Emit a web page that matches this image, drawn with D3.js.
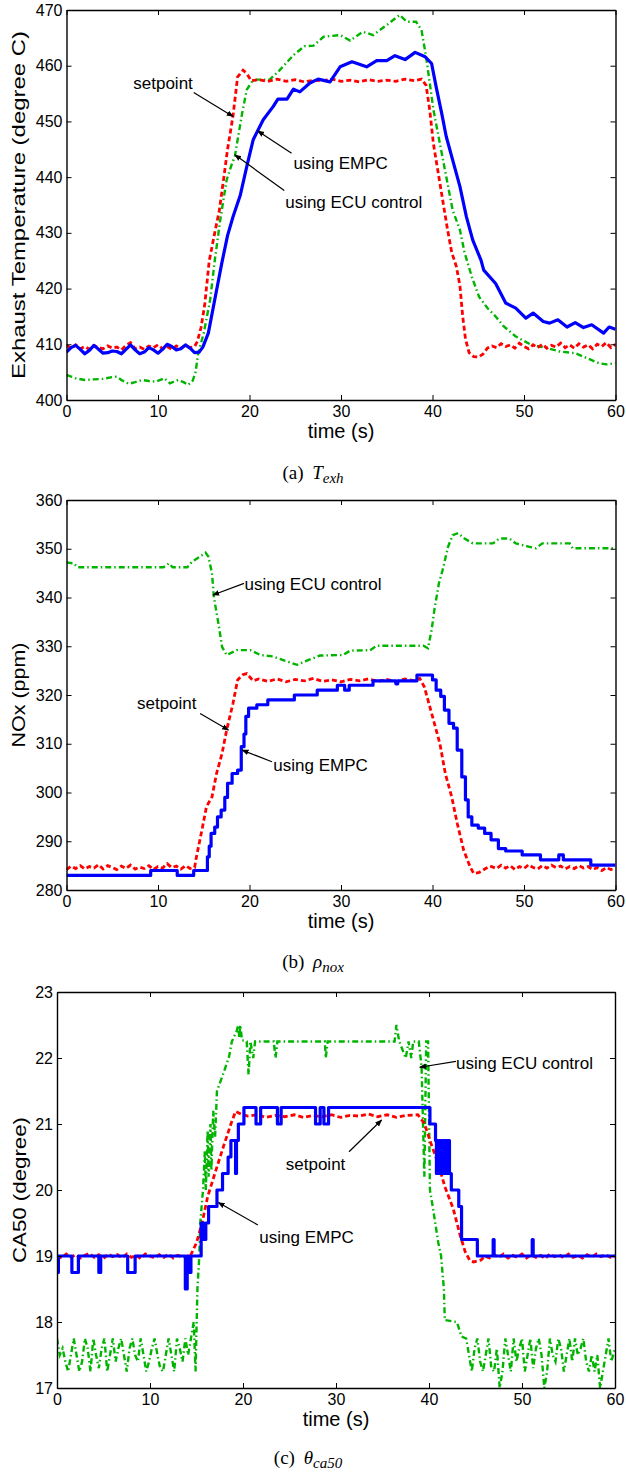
<!DOCTYPE html>
<html>
<head>
<meta charset="utf-8">
<script src="https://cdn.jsdelivr.net/npm/d3@7"></script>
<style>
  body { margin: 0; background: #fff; }
  svg text { font-family: "Liberation Sans", Arial, sans-serif; fill: #000; }
  .cap text, text.cap { font-family: "Liberation Serif", "Times New Roman", serif; }
</style>
</head>
<body>
<svg id="fig" width="626" height="1474"></svg>
<script>
// ---------- data ----------
// (a) exhaust temperature, degree C
const texhSetpoint = [[0,409.8],[0.5,409.3],[1,409.9],[1.5,409.2],[2,409.6],[2.5,409.1],[3,409.8],[3.5,409.4],[4,409.2],[4.5,409.7],[5,409.3],[5.5,409.5],[6,409.0],[6.5,409.8],[7,410.3],[7.5,409.2],[8,409.5],[8.5,409.1],[9,409.7],[9.5,409.4],[10,409.9],[10.5,409.2],[11,409.6],[11.5,409.1],[12,409.7],[12.5,409.3],[13,409.8],[13.5,409.4],[14,409.6],[14.3,410.5],[14.7,413],[15.1,417],[15.6,425],[16.2,430],[16.7,434],[17.2,440],[17.6,445],[18.2,451],[18.7,458],[19.3,459.2],[19.7,458.6],[20.2,457.3],[21,457.5],[22,457.2],[23,457.6],[24,457.2],[25,457.5],[26,457.1],[27,457.4],[28,457.3],[29,457.6],[30,457.2],[31,457.4],[32,457.1],[33,457.5],[34,457.2],[35,457.4],[36,457.2],[37,457.6],[38,457.3],[38.8,457.6],[39.3,456.5],[39.7,452],[40.1,446],[40.6,441],[41.1,436],[41.6,431],[42.1,426.5],[42.6,424],[43,420.5],[43.3,415],[43.6,411],[44,408.5],[44.5,407.8],[45,407.7],[45.5,408.2],[46,409.3],[46.5,409.7],[47,409.4],[47.5,410.1],[48,409.6],[48.5,409.9],[49,409.3],[49.5,410.2],[50,409.6],[50.5,409.2],[51,409.9],[51.5,409.4],[52,410.0],[52.5,409.3],[53,409.8],[53.5,409.5],[54,410.2],[54.5,409.4],[55,409.9],[55.5,409.3],[56,410.1],[56.5,409.5],[57,409.9],[57.5,409.2],[58,410.0],[58.5,409.6],[59,410.3],[59.5,409.4],[60,410.0]];
const texhEmpc = [[0,408.6],[0.5,409.4],[1,409.8],[1.5,409.1],[2,408.3],[2.5,408.9],[3,409.8],[3.5,409.1],[4,408.4],[4.5,408.5],[5,408.8],[5.5,408.7],[6,408.3],[6.5,409.1],[7,409.9],[7.5,409.0],[8,408.3],[8.5,408.6],[9,409.4],[9.5,409.0],[10,408.4],[10.5,409.1],[11,410.0],[11.5,409.6],[12,409.0],[12.5,409.2],[13,409.9],[13.5,409.3],[14,408.5],[14.5,408.6],[14.9,409.5],[15.5,412],[16.2,418],[17,424.8],[17.6,429.5],[18.2,432.9],[19,436.8],[19.7,441.9],[20.4,446.7],[21.5,450.3],[22.6,452.7],[23.1,454],[24.1,454],[24.8,455.8],[25.5,455.3],[26.6,456.9],[27.5,457.6],[28.8,457.1],[29.9,459.8],[31.2,460.7],[32.8,459.8],[33.9,460.9],[35,460.9],[35.9,461.8],[37,461.1],[38.1,462.4],[39.2,461.6],[39.9,460.4],[40.4,456.2],[41,451.5],[41.5,447.3],[42.2,443.1],[43,438.3],[43.7,432.9],[44.4,428.7],[45.3,425.1],[45.6,423.3],[46.9,420.9],[48,417.4],[49.1,416.5],[50.2,414.7],[51,415.6],[52.1,414.1],[52.8,413.8],[53.7,414.4],[54.7,413.1],[55.6,413.9],[56.5,413.0],[57.4,413.5],[58.7,412.0],[59.3,413.1],[60,412.7]];
const texhEcu = [[0,404.5],[0.5,404.2],[1,403.9],[2,403.6],[3,403.7],[4,403.8],[5,404.1],[5.5,404.2],[6,403.6],[6.8,402.9],[7.5,403.2],[8.3,403.6],[9,403.4],[9.8,403.3],[10.7,403.9],[11.3,403.0],[12.2,403.6],[12.8,403.2],[13.3,402.7],[13.8,403.5],[14.1,405],[14.4,408.4],[15,412],[15.7,418],[16.2,425],[16.8,432.3],[17.5,439.5],[18.1,442.5],[18.4,443.7],[18.7,446.7],[19.2,451.5],[19.7,455.7],[20.3,457.2],[20.8,457.5],[22.2,457.5],[23.3,459.2],[24.8,461.9],[26,463.5],[27,463.6],[28.1,465.2],[29.9,465.5],[31,464.5],[32.4,466.1],[33.5,465.5],[35,467.3],[36.4,469.1],[37.2,467.9],[38.2,467.9],[38.8,466.4],[39.3,461.6],[39.7,456.9],[40.1,452.1],[40.8,446.1],[41.5,440.1],[42.2,434.1],[43,430.5],[43.5,426.5],[44.3,422.1],[45.1,418.5],[46,416.5],[46.9,415],[47.8,413.2],[49.1,411.4],[50.8,409.9],[52.6,409.3],[53.9,408.7],[55.6,408.4],[56.9,407.5],[58.2,406.6],[59,406.4],[60,406.6]];

// (b) NOx, ppm
const noxSetpoint = [[0,284.2],[0.5,284.9],[1,284.4],[1.5,285],[2,284.3],[2.5,284.8],[3,284.5],[3.5,285.2],[4,284.3],[4.5,285],[5,284.6],[5.5,284.2],[6,284.9],[6.5,284.4],[7,285.1],[7.5,284.3],[8,284.7],[8.5,284.4],[9,285],[9.5,284.2],[10,284.8],[10.5,284.5],[11,285.4],[11.5,284.6],[12,284.9],[12.5,284.3],[13,285],[13.5,284.4],[14,284.6],[14.2,286.8],[14.8,292.3],[15.3,297.1],[15.9,299.1],[16.4,303.9],[17,308],[17.5,312.8],[18.2,318.3],[18.7,323.1],[19.3,324.2],[19.7,324.4],[20.4,322.9],[21,323.3],[22,322.8],[23,323.3],[24,322.7],[25,323.2],[26,322.9],[27,323.4],[28,322.8],[29,323.1],[30,322.7],[31,323.2],[32,322.9],[33,323.3],[34,322.8],[35,323.2],[36,322.7],[37,323.3],[38,322.9],[38.6,323.4],[39.1,321.7],[39.5,319],[40.1,314.9],[40.8,310.1],[41.4,303.9],[42.1,299.1],[42.7,293.7],[43.4,288.2],[44.1,284.8],[44.5,283.4],[45.1,283.6],[45.8,284.4],[46.3,284.9],[47,284.4],[47.5,285.1],[48,284.5],[48.5,285],[49,284.2],[49.5,284.8],[50,284.4],[50.5,285.2],[51,284.6],[51.5,284.3],[52,285],[52.5,284.5],[53,285.1],[53.5,284.6],[54,284.9],[54.5,284.3],[55,284.8],[55.5,284.4],[56,285],[56.5,284.5],[57,284.8],[57.5,284.2],[58,284.6],[58.5,284],[59,284.6],[59.5,284.2],[60,284.4]];
const noxEmpc = [[0,283],[9.2,284],[12.1,283],[13.9,284],[15.4,286.8],[15.6,289],[15.8,291.6],[16.2,292.9],[16.5,295],[16.9,296.4],[17.3,299],[17.6,301.9],[18.1,303.9],[18.7,304.6],[19.1,309.4],[19.4,312],[19.6,315.6],[19.9,317.3],[20.8,318],[22,319],[24.9,320],[27.4,321],[29.6,322],[30.4,321],[30.9,322],[33.5,322.9],[36,322.3],[36.2,322.9],[38.3,324.1],[40,323.1],[40.4,321],[40.9,319.7],[41.3,316.9],[41.8,314.2],[42.3,313.2],[42.7,308.7],[43.2,303.2],[43.6,298.5],[43.9,295],[44.3,293.3],[45,292.7],[45.7,291.6],[46.4,290.3],[47.2,288.5],[48,288],[49.8,287.2],[51.8,286.2],[53.8,287.2],[54.3,286.2],[57.3,285.1],[60,285.1]];
const noxEcu = [[0,347.2],[0.8,347],[1.2,346.2],[10.6,346.2],[11.2,347],[11.6,346.2],[13.2,346.2],[13.7,347.3],[14.6,348.4],[15.2,349.2],[15.5,348.4],[15.9,345],[16.1,340.2],[16.6,334.7],[17,329.9],[17.5,328.2],[18.6,329.2],[20.1,329.2],[21.2,328.2],[22.6,327.9],[23.9,327],[25.2,326.2],[26.2,327],[27.7,328.1],[30.2,328.2],[31,329.1],[33.2,329.2],[33.9,330.1],[39,330.1],[39.5,329.6],[39.9,333.3],[40.2,337.4],[40.7,342.9],[41.1,345.6],[41.7,350.4],[42.2,352.8],[42.8,353.2],[43.5,352.1],[44.4,351.1],[46.6,351.1],[47.3,352.1],[48.4,352.1],[49.1,351.1],[50.6,350.4],[51.3,350.1],[52,351.1],[55,351.1],[55.3,350.1],[60,350.1]];

// (c) CA50, degree
const caSetpoint = [[0,19.0],[0.5,18.97],[1,19.03],[1.5,18.98],[2,19.02],[2.5,18.97],[3,19.01],[3.5,19.04],[4,18.98],[4.5,19.02],[5,18.96],[5.5,19.03],[6,18.99],[6.5,19.02],[7,18.97],[7.5,19.03],[8,18.98],[8.5,19.01],[9,18.96],[9.5,19.03],[10,19.0],[10.5,18.97],[11,19.02],[11.5,18.98],[12,19.03],[12.5,18.97],[13,19.01],[13.5,18.98],[14,19.0],[14.3,18.99],[15,19.2],[15.6,19.5],[16.2,19.9],[17.2,20.35],[17.9,20.66],[18.7,21.0],[19.2,21.19],[19.8,21.15],[20.5,21.12],[21.5,21.14],[22.5,21.1],[23.5,21.13],[24.5,21.11],[25.5,21.14],[26.5,21.1],[27.5,21.13],[28.5,21.11],[29.5,21.14],[30.5,21.1],[31.5,21.13],[32.5,21.12],[33.5,21.15],[34.5,21.11],[35.5,21.14],[36.5,21.1],[37.5,21.13],[38.8,21.14],[39.5,21.01],[40.2,20.71],[41,20.4],[41.7,20.05],[42.6,19.72],[43.3,19.34],[43.9,19.06],[44.4,18.93],[44.8,18.91],[45.6,18.94],[46,19.0],[46.5,18.97],[47,19.02],[47.5,18.98],[48,19.03],[48.5,18.97],[49,19.01],[49.5,18.98],[50,19.03],[50.5,18.97],[51,19.02],[51.5,18.98],[52,19.01],[52.5,18.96],[53,19.03],[53.5,18.99],[54,19.02],[54.5,18.97],[55,19.03],[55.5,18.98],[56,19.01],[56.5,18.97],[57,19.02],[57.5,18.98],[58,19.03],[58.5,18.99],[59,19.02],[59.5,18.98],[60,19.0]];
const caEmpc = [[0,18.75],[0.15,19.0],[1.6,18.75],[2.3,19.0],[4.5,18.75],[4.7,19.0],[7.6,18.75],[8.4,19.0],[13.8,18.5],[14.0,19.0],[14.2,18.75],[14.4,19.0],[15.5,19.5],[15.8,19.25],[16.0,19.5],[16.3,19.75],[17.2,20.0],[17.8,20.25],[18.4,20.5],[18.7,20.75],[19.2,20.25],[19.3,20.75],[19.5,21.0],[20.1,21.25],[21.4,21.0],[21.9,21.25],[23.7,21.0],[24.1,21.25],[27.8,21.0],[28.3,21.25],[28.7,21.0],[29.2,21.25],[40.1,21.0],[40.7,20.75],[40.8,20.25],[40.9,20.75],[41.0,20.25],[41.1,20.75],[41.2,20.25],[41.3,20.75],[41.4,20.25],[41.5,20.75],[41.6,20.25],[41.7,20.75],[41.8,20.25],[41.9,20.75],[42.0,20.25],[42.1,20.75],[42.2,20.25],[42.4,20.0],[43.2,19.75],[43.5,19.25],[45.2,19.0],[46.9,19.25],[47.0,19.0],[51.1,19.25],[51.2,19.0],[60,19.0]];
const caEcu = [[0,17.75],[0.3,17.5],[0.6,17.6],[0.9,17.4],[1.2,17.25],[1.5,17.5],[1.8,17.75],[2.1,17.5],[2.4,17.25],[2.7,17.4],[3.0,17.75],[3.3,17.6],[3.6,17.25],[3.9,17.75],[4.2,17.5],[4.5,17.3],[4.8,17.6],[5.1,17.75],[5.4,17.25],[5.7,17.5],[6.0,17.75],[6.3,17.4],[6.6,17.6],[6.9,17.75],[7.2,17.5],[7.5,17.25],[7.8,17.6],[8.1,17.75],[8.4,17.5],[8.7,17.4],[9.0,17.75],[9.3,17.5],[9.6,17.25],[9.9,17.4],[10.2,17.6],[10.5,17.75],[10.8,17.5],[11.1,17.3],[11.4,17.25],[11.7,17.5],[12.0,17.75],[12.3,17.5],[12.6,17.25],[12.9,17.75],[13.2,17.6],[13.5,17.4],[13.8,17.75],[14.1,17.5],[14.4,17.75],[14.7,18.0],[14.9,17.25],[15.1,18.5],[15.3,19.0],[15.4,19.5],[15.7,20.0],[15.9,20.6],[16.0,20.0],[16.2,20.9],[16.3,20.2],[16.5,21.0],[16.6,20.3],[16.8,21.2],[17.0,20.8],[17.2,21.5],[17.9,21.77],[18.5,22.02],[18.8,22.25],[19.3,22.4],[19.5,22.5],[19.6,22.3],[19.7,22.5],[19.9,22.27],[20.4,22.25],[20.6,21.75],[20.8,22.25],[21.1,22.0],[21.3,22.25],[23.3,22.25],[23.5,22.0],[23.7,22.25],[28.8,22.25],[28.9,22.0],[29.1,22.25],[36.3,22.25],[36.5,22.5],[36.8,22.25],[37.5,22.0],[37.8,22.25],[38.1,22.0],[38.3,22.25],[38.9,22.25],[39.2,21.87],[39.5,20.2],[39.7,22.25],[39.9,22.25],[40.1,20.0],[40.4,19.75],[41.0,19.2],[41.3,19.0],[41.6,18.5],[41.7,18.03],[43.0,18.0],[43.5,17.78],[44.0,17.75],[44.3,17.5],[44.6,17.25],[44.9,17.6],[45.2,17.75],[45.5,17.4],[45.8,17.25],[46.1,17.5],[46.4,17.75],[46.7,17.3],[47.0,17.25],[47.3,17.6],[47.6,17.0],[47.9,17.25],[48.2,17.75],[48.5,17.5],[48.8,17.25],[49.1,17.75],[49.4,17.4],[49.7,17.6],[50.0,17.75],[50.3,17.25],[50.6,17.5],[50.9,17.75],[51.2,17.3],[51.5,17.6],[51.8,17.75],[52.1,17.5],[52.4,17.0],[52.7,17.25],[53.0,17.75],[53.3,17.5],[53.6,17.4],[53.9,17.75],[54.2,17.6],[54.5,17.25],[54.8,17.5],[55.1,17.75],[55.4,17.4],[55.7,17.75],[56.0,17.5],[56.3,17.6],[56.6,17.75],[56.9,17.4],[57.2,17.25],[57.5,17.5],[57.8,17.25],[58.1,17.5],[58.4,17.0],[58.7,17.25],[59.0,17.5],[59.3,17.75],[59.6,17.4],[60,17.6]];

const xTicks = [0, 10, 20, 30, 40, 50, 60];
const texhTicks = [400, 410, 420, 430, 440, 450, 460, 470];
const noxTicks = [280, 290, 300, 310, 320, 330, 340, 350, 360];
const caTicks = [17, 18, 19, 20, 21, 22, 23];

// annotation: [label, text t, text v, arrow from t, v, arrow tip t, v]
const texhNotes = [
  ["setpoint", 7.3, 456.9, 13.9, 455.2, 18.2, 450.9],
  ["using EMPC", 24.8, 442.5, 24.6, 444.3, 20.9, 448.3],
  ["using ECU control", 23.9, 435.6, 23.8, 437.6, 18.4, 444.0]
];
const noxNotes = [
  ["using ECU control", 19.45, 342.7, 19.4, 342.9, 16.0, 340.5],
  ["setpoint", 7.7, 318.3, 14.6, 316.2, 17.7, 312.8],
  ["using EMPC", 22.6, 305.6, 22.45, 306.3, 19.2, 308.7]
];
const caNotes = [
  ["using ECU control", 42.9, 21.93, 42.9, 21.95, 39.0, 21.86],
  ["setpoint", 24.6, 20.40, 31.4, 20.58, 34.9, 21.06],
  ["using EMPC", 21.75, 19.29, 21.6, 19.47, 17.35, 19.81]
];

// ---------- layout ----------
const panels = [
  { box: {l: 66.5, r: 615.5, t: 10, b: 400}, yDomain: [400, 470], yTicks: texhTicks,
    ylabel: "Exhaust Temperature (degree C)", ylabelLen: 348, ylabelX: 25,
    ecu: texhEcu, set: texhSetpoint, empc: texhEmpc, empcStep: false, notes: texhNotes,
    cap: ["(a)", "T", "exh"], capY: 479 },
  { box: {l: 66.5, r: 615.5, t: 500, b: 890}, yDomain: [280, 360], yTicks: noxTicks,
    ylabel: "NOx (ppm)", ylabelLen: 105, ylabelX: 25,
    ecu: noxEcu, set: noxSetpoint, empc: noxEmpc, empcStep: true, notes: noxNotes,
    cap: ["(b)", "\u03C1", "nox"], capY: 968 },
  { box: {l: 57, r: 615, t: 992, b: 1388}, yDomain: [17, 23], yTicks: caTicks,
    ylabel: "CA50 (degree)", ylabelLen: 146, ylabelX: 26,
    ecu: caEcu, set: caSetpoint, empc: caEmpc, empcStep: true, notes: caNotes,
    cap: ["(c)", "\u03B8", "ca50"], capY: 1464 }
];

const svg = d3.select("#fig");
const defs = svg.append("defs");
defs.append("marker")
  .attr("id", "arrow")
  .attr("viewBox", "0 0 10 10")
  .attr("refX", 9).attr("refY", 5)
  .attr("markerWidth", 7).attr("markerHeight", 7)
  .attr("markerUnits", "userSpaceOnUse")
  .attr("orient", "auto")
  .append("path").attr("d", "M0,1 L10,5 L0,9 Z").attr("fill", "#000");

panels.forEach((p, i) => {
  const b = p.box;
  const x = d3.scaleLinear().domain([0, 60]).range([b.l, b.r]);
  const y = d3.scaleLinear().domain(p.yDomain).range([b.b, b.t]);
  const g = svg.append("g");

  defs.append("clipPath").attr("id", "clip" + i)
    .append("rect").attr("x", b.l).attr("y", b.t).attr("width", b.r - b.l).attr("height", b.b - b.t);

  const lines = g.append("g").attr("clip-path", `url(#clip${i})`);
  const line = d3.line().x(d => x(d[0])).y(d => y(d[1]));
  const stepLine = d3.line().x(d => x(d[0])).y(d => y(d[1])).curve(d3.curveStepAfter);

  lines.append("path").datum(p.ecu).attr("d", line)
    .attr("fill", "none").attr("stroke", "#00b400").attr("stroke-width", 2.4)
    .attr("stroke-dasharray", "6,3,1.5,3");
  lines.append("path").datum(p.set).attr("d", line)
    .attr("fill", "none").attr("stroke", "#ff0000").attr("stroke-width", 2.8)
    .attr("stroke-dasharray", "5,3");
  lines.append("path").datum(p.empc).attr("d", p.empcStep ? stepLine : line)
    .attr("fill", "none").attr("stroke", "#0000ff").attr("stroke-width", 3.2)
    .attr("stroke-linejoin", "round");

  // axes, ticks inward on all four sides
  const fmt = d3.format("d");
  const ax = [
    g.append("g").attr("transform", `translate(0,${b.b})`)
      .call(d3.axisBottom(x).tickValues(xTicks).tickFormat(fmt).tickSizeInner(-5).tickSizeOuter(0).tickPadding(6)),
    g.append("g").attr("transform", `translate(0,${b.t})`)
      .call(d3.axisTop(x).tickValues(xTicks).tickFormat("").tickSizeInner(-5).tickSizeOuter(0)),
    g.append("g").attr("transform", `translate(${b.l},0)`)
      .call(d3.axisLeft(y).tickValues(p.yTicks).tickFormat(fmt).tickSizeInner(-5).tickSizeOuter(0).tickPadding(4)),
    g.append("g").attr("transform", `translate(${b.r},0)`)
      .call(d3.axisRight(y).tickValues(p.yTicks).tickFormat("").tickSizeInner(-5).tickSizeOuter(0))
  ];
  ax.forEach(a => {
    a.select(".domain").attr("stroke", "#000").attr("stroke-width", 1.4);
    a.selectAll(".tick line").attr("stroke", "#000").attr("stroke-width", 1);
    a.selectAll("text").attr("font-size", 16).attr("font-family", '"Liberation Sans", Arial, sans-serif').attr("fill", "#000");
  });

  // axis labels
  g.append("text").attr("x", (b.l + b.r) / 2).attr("y", b.b + 38)
    .attr("text-anchor", "middle").attr("font-size", 20).text("time (s)");
  g.append("text")
    .attr("transform", `translate(${p.ylabelX},${(b.t + b.b) / 2}) rotate(-90)`)
    .attr("text-anchor", "middle").attr("font-size", 19)
    .attr("textLength", p.ylabelLen).attr("lengthAdjust", "spacingAndGlyphs")
    .text(p.ylabel);

  // annotations
  p.notes.forEach(n => {
    g.append("line")
      .attr("x1", x(n[3])).attr("y1", y(n[4]))
      .attr("x2", x(n[5])).attr("y2", y(n[6]))
      .attr("stroke", "#000").attr("stroke-width", 1.2)
      .attr("marker-end", "url(#arrow)");
    g.append("text").attr("x", x(n[1])).attr("y", y(n[2])).attr("dy", "0.35em")
      .attr("font-size", 17).text(n[0]);
  });

  // caption
  const cap = g.append("text").attr("class", "cap")
    .attr("x", (b.l + b.r) / 2 - 28).attr("y", p.capY)
    .attr("text-anchor", "middle").attr("font-size", 19);
  cap.append("tspan").text(p.cap[0] + " ");
  cap.append("tspan").attr("dx", 4).attr("font-style", "italic").text(p.cap[1]);
  cap.append("tspan").attr("font-style", "italic").attr("font-size", 15).attr("dy", 4).text(p.cap[2]);
});
</script>
</body>
</html>
